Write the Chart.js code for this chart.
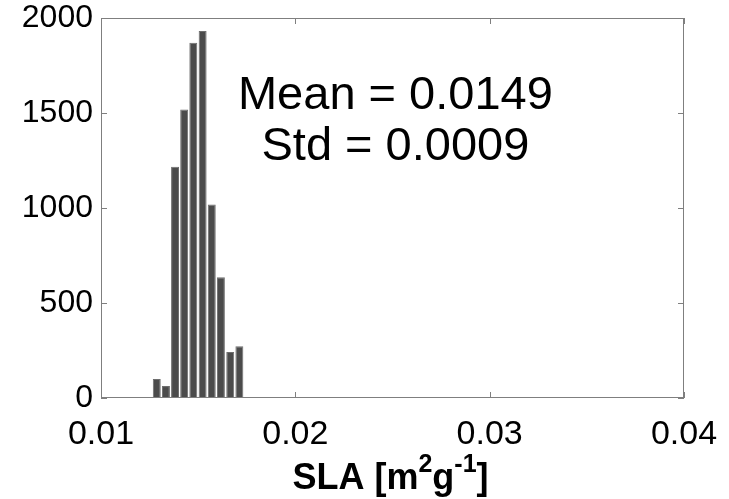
<!DOCTYPE html>
<html>
<head>
<meta charset="utf-8">
<script src="https://cdn.jsdelivr.net/npm/chart.js@4.4.1/dist/chart.umd.min.js"></script>
<style>
    html, body { margin: 0; padding: 0; background: #ffffff; }
</style>
</head>
<body>
<canvas id="chart" width="729" height="499"></canvas>
<script>
// histogram bins (bin centre, count)
const binCenters = [0.01287, 0.01334, 0.01381, 0.01428, 0.01475, 0.01523, 0.01570, 0.01617, 0.01665, 0.01712];
const binCounts = [100, 63, 1217, 1519, 1870, 1932, 1019, 635, 242, 272];

const xTicks = [0.01, 0.02, 0.03, 0.04];
const yTicks = [0, 500, 1000, 1500, 2000];

const statLines = ["Mean = 0.0149", "Std = 0.0009"];
// x title pieces, superscripts flagged
const xTitleParts = [
    { text: "SLA [m", sup: false },
    { text: "2", sup: true },
    { text: "g", sup: false },
    { text: "-1", sup: true },
    { text: "]", sup: false }
];

const FONT = "'Liberation Sans', Arial, Helvetica, sans-serif";

// box round the axes with inward ticks, like matlab
const boxPlugin = {
    id: "box",
    afterDatasetsDraw(chart) {
        const { ctx, chartArea: a, scales } = chart;
        ctx.save();
        ctx.strokeStyle = "#7f7f7f";
        ctx.lineWidth = 1;
        ctx.strokeRect(a.left + 0.5, a.top + 0.5, a.width - 1, a.height - 1);
        ctx.beginPath();
        xTicks.forEach(v => {
            const px = Math.round(scales.x.getPixelForValue(v)) + 0.5;
            ctx.moveTo(px, a.bottom); ctx.lineTo(px, a.bottom - 6);
            ctx.moveTo(px, a.top); ctx.lineTo(px, a.top + 6);
        });
        yTicks.forEach(v => {
            const py = Math.round(scales.y.getPixelForValue(v)) + 0.5;
            ctx.moveTo(a.left, py); ctx.lineTo(a.left + 6, py);
            ctx.moveTo(a.right, py); ctx.lineTo(a.right - 6, py);
        });
        ctx.stroke();
        ctx.restore();
    }
};

// mean / std text placed in data coordinates
const statsPlugin = {
    id: "stats",
    afterDraw(chart) {
        const { ctx, scales } = chart;
        const cx = scales.x.getPixelForValue(0.02515);
        const ys = [1589, 1321];
        ctx.save();
        ctx.fillStyle = "#000000";
        ctx.font = "47px " + FONT;
        ctx.textAlign = "center";
        ctx.textBaseline = "middle";
        statLines.forEach((line, i) => {
            ctx.fillText(line, cx, scales.y.getPixelForValue(ys[i]));
        });
        ctx.restore();
    }
};

// x axis title with superscripts
const xTitlePlugin = {
    id: "xTitle",
    afterDraw(chart) {
        const { ctx, chartArea: a } = chart;
        const mainFont = "bold 36px " + FONT;
        const supFont = "bold 25px " + FONT;
        ctx.save();
        ctx.fillStyle = "#000000";
        ctx.textBaseline = "alphabetic";
        let total = 0;
        xTitleParts.forEach(p => {
            ctx.font = p.sup ? supFont : mainFont;
            p.w = ctx.measureText(p.text).width;
            total += p.w;
        });
        let x = (a.left + a.right) / 2 - 2 - total / 2;
        const base = 489;
        xTitleParts.forEach(p => {
            ctx.font = p.sup ? supFont : mainFont;
            ctx.fillText(p.text, x, p.sup ? base - 17 : base);
            x += p.w;
        });
        ctx.restore();
    }
};

// drop the label overflow padding, layout padding places the box
const noEdgePadding = (scale) => {
    scale.paddingTop = 0;
    scale.paddingBottom = 0;
    scale.paddingLeft = 0;
    scale.paddingRight = 0;
};

const ctx = document.getElementById("chart");

const graph = new Chart(ctx, {
    type: "bar",
    data: {
        datasets: [{
            data: binCenters.map((c, i) => ({ x: c, y: binCounts[i] })),
            backgroundColor: "#4b4b4b",
            borderColor: "#6e6e6e",
            borderWidth: 1,
            borderSkipped: false,
            barPercentage: 0.87,
            categoryPercentage: 1.0
        }]
    },
    options: {
        responsive: false,
        animation: false,
        layout: {
            padding: { top: 18, right: 45, left: 0, bottom: 0 }
        },
        scales: {
            x: {
                type: "linear",
                min: 0.01,
                max: 0.04,
                offset: false,
                afterBuildTicks: (scale) => {
                    scale.ticks = xTicks.map(v => ({ value: v }));
                },
                afterFit: (scale) => { scale.height = 101; noEdgePadding(scale); },
                grid: { display: false, drawTicks: false, offset: false },
                border: { display: false },
                ticks: {
                    color: "#000000",
                    padding: 16,
                    maxRotation: 0,
                    font: { family: FONT, size: 34 },
                    callback: (v) => v.toFixed(2)
                }
            },
            y: {
                min: 0,
                max: 2000,
                afterBuildTicks: (scale) => {
                    scale.ticks = yTicks.map(v => ({ value: v }));
                },
                afterFit: (scale) => { scale.width = 101; noEdgePadding(scale); },
                grid: { display: false, drawTicks: false },
                border: { display: false },
                ticks: {
                    color: "#000000",
                    padding: 8,
                    font: { family: FONT, size: 32 },
                    callback: (v) => String(v)
                }
            }
        },
        plugins: {
            legend: { display: false },
            tooltip: { enabled: false },
            title: { display: false }
        }
    },
    plugins: [boxPlugin, statsPlugin, xTitlePlugin]
});
</script>
</body>
</html>
